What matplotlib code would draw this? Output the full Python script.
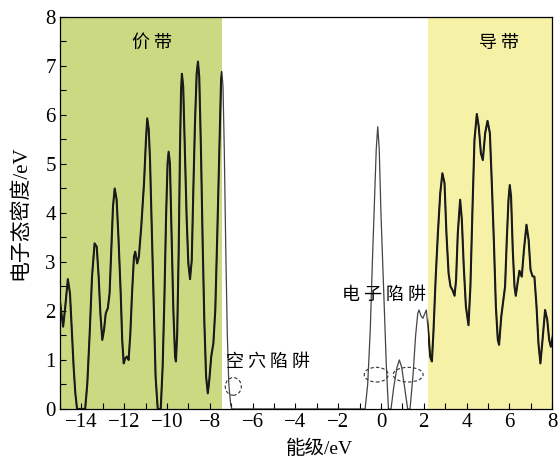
import matplotlib
matplotlib.use("Agg")
import matplotlib.pyplot as plt
from matplotlib.patches import Ellipse
from matplotlib.ticker import MultipleLocator

# energy (eV) and density of states
energy = [
    -15.0, -14.91, -14.85, -14.75, -14.63, -14.53, -14.44, -14.36, -14.28, -14.2,
    -13.82, -13.72, -13.61, -13.5, -13.38, -13.28, -13.19, -13.11, -13.02, -12.94,
    -12.86, -12.76, -12.68, -12.6, -12.52, -12.44, -12.35, -12.26, -12.16, -12.09,
    -12.02, -11.95, -11.87, -11.79, -11.71, -11.63, -11.54, -11.48, -11.39, -11.31,
    -11.2, -11.07, -10.98, -10.92, -10.85, -10.79, -10.7, -10.61, -10.53, -10.43,
    -10.29, -10.2, -10.12, -10.04, -9.97, -9.92, -9.86, -9.78, -9.7, -9.62,
    -9.58, -9.52, -9.45, -9.39, -9.34, -9.3, -9.24, -9.16, -9.08, -9.0,
    -8.92, -8.84, -8.77, -8.69, -8.61, -8.55, -8.49, -8.41, -8.33, -8.25,
    -8.17, -8.09, -8.02, -7.93, -7.83, -7.74, -7.65, -7.55, -7.47, -7.43,
    -7.38, -7.32, -7.25, -7.18, -7.11, -7.02, -6.96,
    -0.8, -0.74, -0.62, -0.5, -0.4, -0.3, -0.22, -0.15, -0.08, 0.0,
    0.08, 0.16, 0.25, 0.35, 0.47, 0.6, 0.75, 0.86, 0.97, 1.12,
    1.25, 1.36, 1.5, 1.62, 1.72, 1.78, 1.87, 1.96, 2.05, 2.12,
    2.22, 2.3, 2.38, 2.45, 2.56, 2.66, 2.77, 2.87, 2.97, 3.06,
    3.16, 3.25, 3.34, 3.44, 3.51, 3.59, 3.7, 3.78, 3.87, 3.97,
    4.09, 4.18, 4.28, 4.37, 4.48, 4.57, 4.67, 4.76, 4.87, 4.98,
    5.09, 5.18, 5.28, 5.37, 5.46, 5.52, 5.62, 5.72, 5.8, 5.88,
    5.96, 6.02, 6.08, 6.16, 6.24, 6.3, 6.38, 6.47, 6.58, 6.68,
    6.8, 6.9, 6.99, 7.08, 7.17, 7.27, 7.36, 7.45, 7.55, 7.67,
    7.77, 7.86, 7.94, 8.05,
]
dos = [
    2.22, 1.88, 1.68, 2.09, 2.65, 2.36, 1.55, 0.86, 0.32, 0.0,
    0.0, 0.52, 1.54, 2.7, 3.38, 3.31, 2.7, 1.95, 1.41, 1.61,
    1.95, 2.06, 2.36, 3.24, 4.13, 4.5, 4.27, 3.45, 2.36, 1.41,
    0.93, 1.03, 1.07, 1.0, 1.54, 2.36, 3.11, 3.21, 2.97, 3.11,
    3.72, 4.61, 5.49, 5.93, 5.7, 5.08, 3.52, 1.88, 0.66, 0.0,
    0.0, 0.86, 2.22, 3.92, 5.01, 5.25, 5.01, 3.52, 2.02, 1.07,
    0.97, 1.54, 3.24, 5.29, 6.51, 6.84, 6.58, 5.29, 3.92, 2.97,
    2.65, 3.04, 4.4, 5.83, 6.85, 7.09, 6.78, 5.29, 3.38, 1.75,
    0.66, 0.32, 0.59, 1.07, 1.34, 2.02, 3.52, 5.29, 6.71, 6.88,
    6.58, 5.29, 3.24, 1.54, 0.52, 0.08, 0.0,
    0.0, 0.0, 0.5, 1.6, 3.0, 4.3, 5.3, 5.76, 5.3, 4.0,
    3.0, 2.0, 0.9, 0.0, 0.0, 0.45, 0.85, 1.0, 0.85, 0.4,
    0.0, 0.0, 0.7, 1.5, 1.95, 2.02, 1.9, 1.85, 1.95, 2.02,
    1.54, 1.07, 0.97, 1.54, 2.7, 3.58, 4.4, 4.81, 4.61, 3.58,
    2.77, 2.5, 2.43, 2.31, 2.63, 3.58, 4.27, 3.86, 2.9, 2.09,
    1.71, 2.5, 4.13, 5.49, 6.02, 5.76, 5.22, 5.08, 5.63, 5.88,
    5.63, 4.61, 3.38, 2.09, 1.41, 1.31, 1.88, 2.22, 2.5, 3.45,
    4.27, 4.57, 4.33, 3.24, 2.5, 2.31, 2.56, 2.82, 2.7, 3.24,
    3.76, 3.45, 2.84, 2.71, 2.7, 2.09, 1.34, 0.93, 1.41, 2.02,
    1.82, 1.41, 1.27, 1.54,
]

valence_band = (-15.0, -7.45)
conduction_band = (2.2, 8.0)
band_labels = ["价 带", "导 带"]
trap_labels = ["空 穴 陷 阱", "电 子 陷 阱"]
xticks = list(range(-14, 9, 2))
yticks = list(range(0, 9))

cjk = ["Noto Sans CJK SC", "DejaVu Sans"]
mixed = ["Liberation Serif", "Noto Sans CJK SC"]

fig = plt.figure(figsize=(5.6, 4.59), dpi=100)
ax = fig.add_axes([0.107, 0.109, 0.879, 0.854])

vb = ax.axvspan(*valence_band, color="#cbda82", lw=0, zorder=0)
cb = ax.axvspan(*conduction_band, color="#f5f1a6", lw=0, zorder=0)

# thin line everywhere, thicker inside the two bands
ax.plot(energy, dos, color="#444444", lw=0.9, zorder=2)
for band in (vb, cb):
    ln, = ax.plot(energy, dos, color="#1a1a1a", lw=1.5, zorder=3)
    ln.set_clip_path(band)

# dashed ellipses marking the trap states
for cx, cy, w, h in [(-6.9, 0.46, 0.75, 0.36), (-0.22, 0.7, 1.12, 0.3), (1.27, 0.7, 1.4, 0.3)]:
    ax.add_patch(Ellipse((cx, cy), w, h, fill=False, ls=(0, (3, 2)), lw=0.8,
                         ec="#333333", zorder=4))

ax.text(-10.7, 7.47, band_labels[0], family=cjk, fontsize=13, ha="center", va="center")
ax.text(5.5, 7.47, band_labels[1], family=cjk, fontsize=13, ha="center", va="center")
ax.text(-5.3, 0.97, trap_labels[0], family=cjk, fontsize=13, ha="center", va="center")
ax.text(0.12, 2.33, trap_labels[1], family=cjk, fontsize=13, ha="center", va="center")

ax.set_xlim(-15, 8)
ax.set_ylim(0, 8)
ax.xaxis.set_minor_locator(MultipleLocator(1))
ax.yaxis.set_minor_locator(MultipleLocator(0.5))
ax.tick_params(which="both", direction="in", length=4, width=0.8, top=False, right=False)
ax.tick_params(which="major", labelsize=15, pad=3)
ax.set_xticks(xticks)
ax.set_xticklabels([str(v).replace("-", "\u2212") for v in xticks], family="Liberation Serif")
ax.set_yticks(yticks)
ax.set_yticklabels([str(v) for v in yticks], family="Liberation Serif")

ax.set_xlabel("能级/eV", family=mixed, fontsize=14)
ax.xaxis.set_label_coords(0.528, -0.078)
ax.set_ylabel("电子态密度/eV", family=mixed, fontsize=15)
ax.yaxis.set_label_coords(-0.06, 0.5)

for s in ax.spines.values():
    s.set_linewidth(0.9)

fig.savefig("out.png", dpi=100)
